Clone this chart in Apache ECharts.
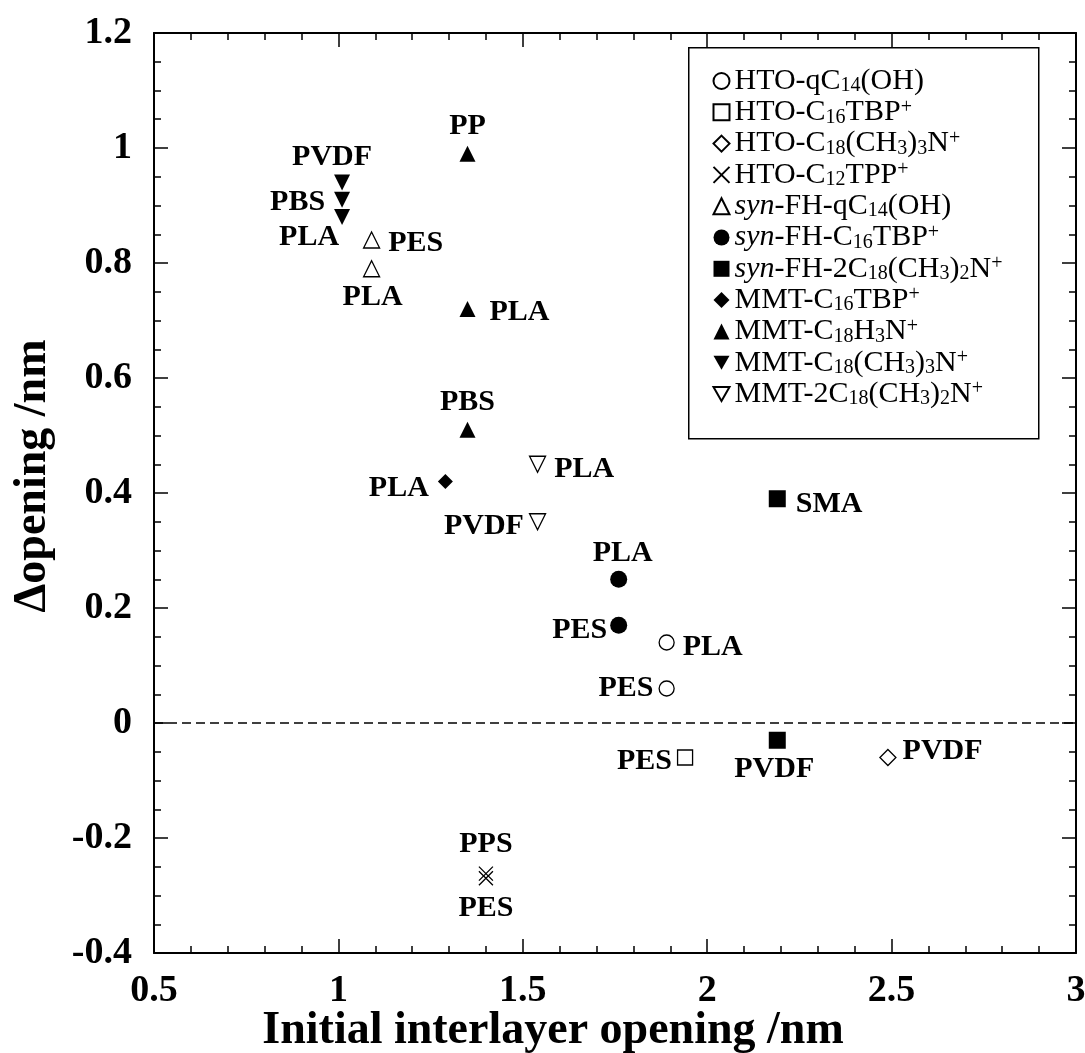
<!DOCTYPE html>
<html>
<head>
<meta charset="utf-8">
<script src="https://cdn.jsdelivr.net/npm/echarts@6/dist/echarts.min.js"></script>
<style>html,body{margin:0;padding:0;background:#fff;}#c{width:1085px;height:1053px;}</style>
</head>
<body>
<div id="c"></div>
<script>
// ---- data ----
const seriesNames = ['HTO-qC14(OH)','HTO-C16TBP+','HTO-C18(CH3)3N+','HTO-C12TPP+','syn-FH-qC14(OH)','syn-FH-C16TBP+','syn-FH-2C18(CH3)2N+','MMT-C16TBP+','MMT-C18H3N+','MMT-C18(CH3)3N+','MMT-2C18(CH3)2N+'];
const legendLabels = [
  'HTO-qC{sub|14}(OH)',
  'HTO-C{sub|16}TBP{sup|+}',
  'HTO-C{sub|18}(CH{sub|3}){sub|3}N{sup|+}',
  'HTO-C{sub|12}TPP{sup|+}',
  '{it|syn}-FH-qC{sub|14}(OH)',
  '{it|syn}-FH-C{sub|16}TBP{sup|+}',
  '{it|syn}-FH-2C{sub|18}(CH{sub|3}){sub|2}N{sup|+}',
  'MMT-C{sub|16}TBP{sup|+}',
  'MMT-C{sub|18}H{sub|3}N{sup|+}',
  'MMT-C{sub|18}(CH{sub|3}){sub|3}N{sup|+}',
  'MMT-2C{sub|18}(CH{sub|3}){sub|2}N{sup|+}'
];
const xTicks = [0.5, 1, 1.5, 2, 2.5, 3];
const yTicks = [-0.4, -0.2, 0, 0.2, 0.4, 0.6, 0.8, 1, 1.2];

const htoQC14OH = [[1.89, 0.14], [1.89, 0.06]];
const htoQC14OHLabels = ['PLA', 'PES'];
const htoC16TBP = [[1.94, -0.06]];
const htoC16TBPLabels = ['PES'];
const htoC18Me3N = [[2.49, -0.06]];
const htoC18Me3NLabels = ['PVDF'];
const htoC12TPP = [[1.40, -0.262], [1.40, -0.270]];
const htoC12TPPLabels = ['PPS', 'PES'];
const synQC14OH = [[1.09, 0.84], [1.09, 0.79]];
const synQC14OHLabels = ['PES', 'PLA'];
const synC16TBP = [[1.76, 0.25], [1.76, 0.17]];
const synC16TBPLabels = ['PLA', 'PES'];
const syn2C18Me2N = [[2.19, 0.39], [2.19, -0.03]];
const syn2C18Me2NLabels = ['SMA', 'PVDF'];
const mmtC16TBP = [[1.29, 0.42]];
const mmtC16TBPLabels = ['PLA'];
const mmtC18H3N = [[1.35, 0.99], [1.35, 0.72], [1.35, 0.51]];
const mmtC18H3NLabels = ['PP', 'PLA', 'PBS'];
const mmtC18Me3N = [[1.01, 0.94], [1.01, 0.91], [1.01, 0.88]];
const mmtC18Me3NLabels = ['PVDF', 'PBS', 'PLA'];
const mmt2C18Me2N = [[1.54, 0.45], [1.54, 0.35]];
const mmt2C18Me2NLabels = ['PLA', 'PVDF'];

// ---- layout / style (not data) ----
// [position, distance, dx, dy]
const labelLayout = [
  [['right', 8, 0, 5], ['left', 5, 0, 0]],
  [['left', 5, 0, 4]],
  [['right', 6, 0, -6]],
  [['top', 5, 0, 0], ['bottom', 5, 0, 0]],
  [['right', 8, 0, 3], ['bottom', 5, 1, 0]],
  [['top', 3, 4, 0], ['left', 3, 0, 5]],
  [['right', 10, 0, 5], ['bottom', 5, -3, 0]],
  [['left', 9, 0, 7]],
  [['top', 5, 0, 0], ['right', 14, 0, 3], ['top', 5, 0, 0]],
  [['top', 2, -10, 0], ['left', 9, 0, 2], ['bottom', 0, -33, -3]],
  [['right', 8, 0, 5], ['left', 5, 0, 4]]
];
const open = {color: '#fff', borderColor: '#000', borderWidth: 1.3, opacity: 1};
const filled = {color: '#000', borderColor: '#000', borderWidth: 0, opacity: 1};
const crossPath = 'path://M0,0L20,20M20,0L0,20';
const downTri = 'path://M0,0L20,0L10,17.32Z';
const seriesStyle = [
  {symbol: 'circle', size: 15, item: open},
  {symbol: 'rect', size: 15, item: open},
  {symbol: 'diamond', size: 16, item: open},
  {symbol: crossPath, size: 14, item: {color: 'none', borderColor: '#000', borderWidth: 1.3, opacity: 1}},
  {symbol: 'triangle', size: 16, item: open},
  {symbol: 'circle', size: 17, item: filled},
  {symbol: 'rect', size: 17, item: filled},
  {symbol: 'diamond', size: 15, item: filled},
  {symbol: 'triangle', size: 16, item: filled},
  {symbol: downTri, size: 16, item: filled},
  {symbol: downTri, size: 16, item: open}
];
const allData = [htoQC14OH, htoC16TBP, htoC18Me3N, htoC12TPP, synQC14OH, synC16TBP, syn2C18Me2N, mmtC16TBP, mmtC18H3N, mmtC18Me3N, mmt2C18Me2N];
const allLabels = [htoQC14OHLabels, htoC16TBPLabels, htoC18Me3NLabels, htoC12TPPLabels, synQC14OHLabels, synC16TBPLabels, syn2C18Me2NLabels, mmtC16TBPLabels, mmtC18H3NLabels, mmtC18Me3NLabels, mmt2C18Me2NLabels];

const FONT = 'Liberation Serif';
const labelFont = {fontFamily: FONT, fontSize: 30, fontWeight: 'bold', color: '#000', opacity: 1};

const series = seriesNames.map((name, i) => {
  const st = seriesStyle[i];
  const s = {
    name: name,
    type: 'scatter',
    symbol: st.symbol,
    symbolSize: st.size,
    itemStyle: st.item,
    emphasis: {disabled: true},
    data: allData[i].map((p, j) => {
      const L = labelLayout[i][j];
      return {
        value: p,
        label: Object.assign({
          show: true,
          formatter: allLabels[i][j],
          position: L[0],
          distance: L[1],
          offset: [L[2], L[3]]
        }, labelFont)
      };
    }),
    z: 3
  };
  if (i === 0) {
    s.markLine = {
      silent: true,
      symbol: ['none', 'none'],
      label: {show: false},
      lineStyle: {type: [9, 5], color: '#000', width: 1.5, opacity: 1},
      data: [{yAxis: 0}],
      z: 1
    };
  }
  return s;
});

const axisLineStyle = {onZero: false, lineStyle: {color: '#000', width: 2}};
const tickStyle = {inside: true, length: 14, lineStyle: {color: '#000', width: 1.5}};
const minorTickStyle = (n) => ({show: true, splitNumber: n, length: 7, lineStyle: {color: '#000', width: 1.5}});
const tickFont = {fontFamily: FONT, fontSize: 38, fontWeight: 'bold', color: '#000'};

const option = {
  backgroundColor: '#fff',
  animation: false,
  grid: {left: 154, right: 9, top: 33, bottom: 100, containLabel: false, outerBoundsMode: 'none'},
  xAxis: [
    {
      type: 'value', min: xTicks[0], max: xTicks[xTicks.length - 1], interval: 0.5,
      position: 'bottom',
      axisLine: axisLineStyle, axisTick: tickStyle, minorTick: minorTickStyle(5),
      splitLine: {show: false},
      axisLabel: Object.assign({margin: 19, formatter: v => String(v)}, tickFont),
      name: 'Initial interlayer opening /nm',
      nameLocation: 'middle', nameGap: 55, nameMoveOverlap: false,
      nameTextStyle: {fontFamily: FONT, fontSize: 46, fontWeight: 'bold', color: '#000', padding: [0, 124, 0, 0]}
    },
    {
      type: 'value', min: xTicks[0], max: xTicks[xTicks.length - 1], interval: 0.5,
      position: 'top',
      axisLine: axisLineStyle, axisTick: tickStyle, minorTick: minorTickStyle(5),
      splitLine: {show: false}, axisLabel: {show: false}
    }
  ],
  yAxis: [
    {
      type: 'value', min: yTicks[0], max: yTicks[yTicks.length - 1], interval: 0.2,
      position: 'left',
      axisLine: axisLineStyle, axisTick: tickStyle, minorTick: minorTickStyle(4),
      splitLine: {show: false},
      axisLabel: Object.assign({margin: 22, formatter: v => String(Math.round(v * 10) / 10)}, tickFont),
      name: '\u0394opening /nm',
      nameLocation: 'middle', nameGap: 98, nameRotate: 90, nameMoveOverlap: false,
      nameTextStyle: {fontFamily: FONT, fontSize: 46, fontWeight: 'bold', color: '#000', padding: [0, 0, 0, 34]}
    },
    {
      type: 'value', min: yTicks[0], max: yTicks[yTicks.length - 1], interval: 0.2,
      position: 'right',
      axisLine: axisLineStyle, axisTick: tickStyle, minorTick: minorTickStyle(4),
      splitLine: {show: false}, axisLabel: {show: false}
    }
  ],
  legend: {
    orient: 'vertical',
    left: 711, top: 66,
    padding: 0,
    itemWidth: 16, itemHeight: 16,
    itemGap: 1.3,
    selectedMode: false,
    data: seriesNames,
    formatter: name => legendLabels[seriesNames.indexOf(name)],
    textStyle: {
      fontFamily: FONT, fontSize: 30, color: '#000', lineHeight: 30,
      rich: {
        sub: {fontFamily: FONT, fontSize: 20, lineHeight: 9, verticalAlign: 'bottom', color: '#000'},
        sup: {fontFamily: FONT, fontSize: 20, lineHeight: 7, verticalAlign: 'top', color: '#000'},
        it: {fontFamily: FONT, fontSize: 30, fontStyle: 'italic', lineHeight: 30, color: '#000'}
      }
    }
  },
  graphic: [{
    type: 'rect', left: 688, top: 47, z: 0,
    shape: {width: 350, height: 391},
    style: {fill: '#fff', stroke: '#000', lineWidth: 1.5}
  }],
  series: series
};

const chart = echarts.init(document.getElementById('c'), null, {renderer: 'canvas'});
chart.setOption(option);
</script>
</body>
</html>
